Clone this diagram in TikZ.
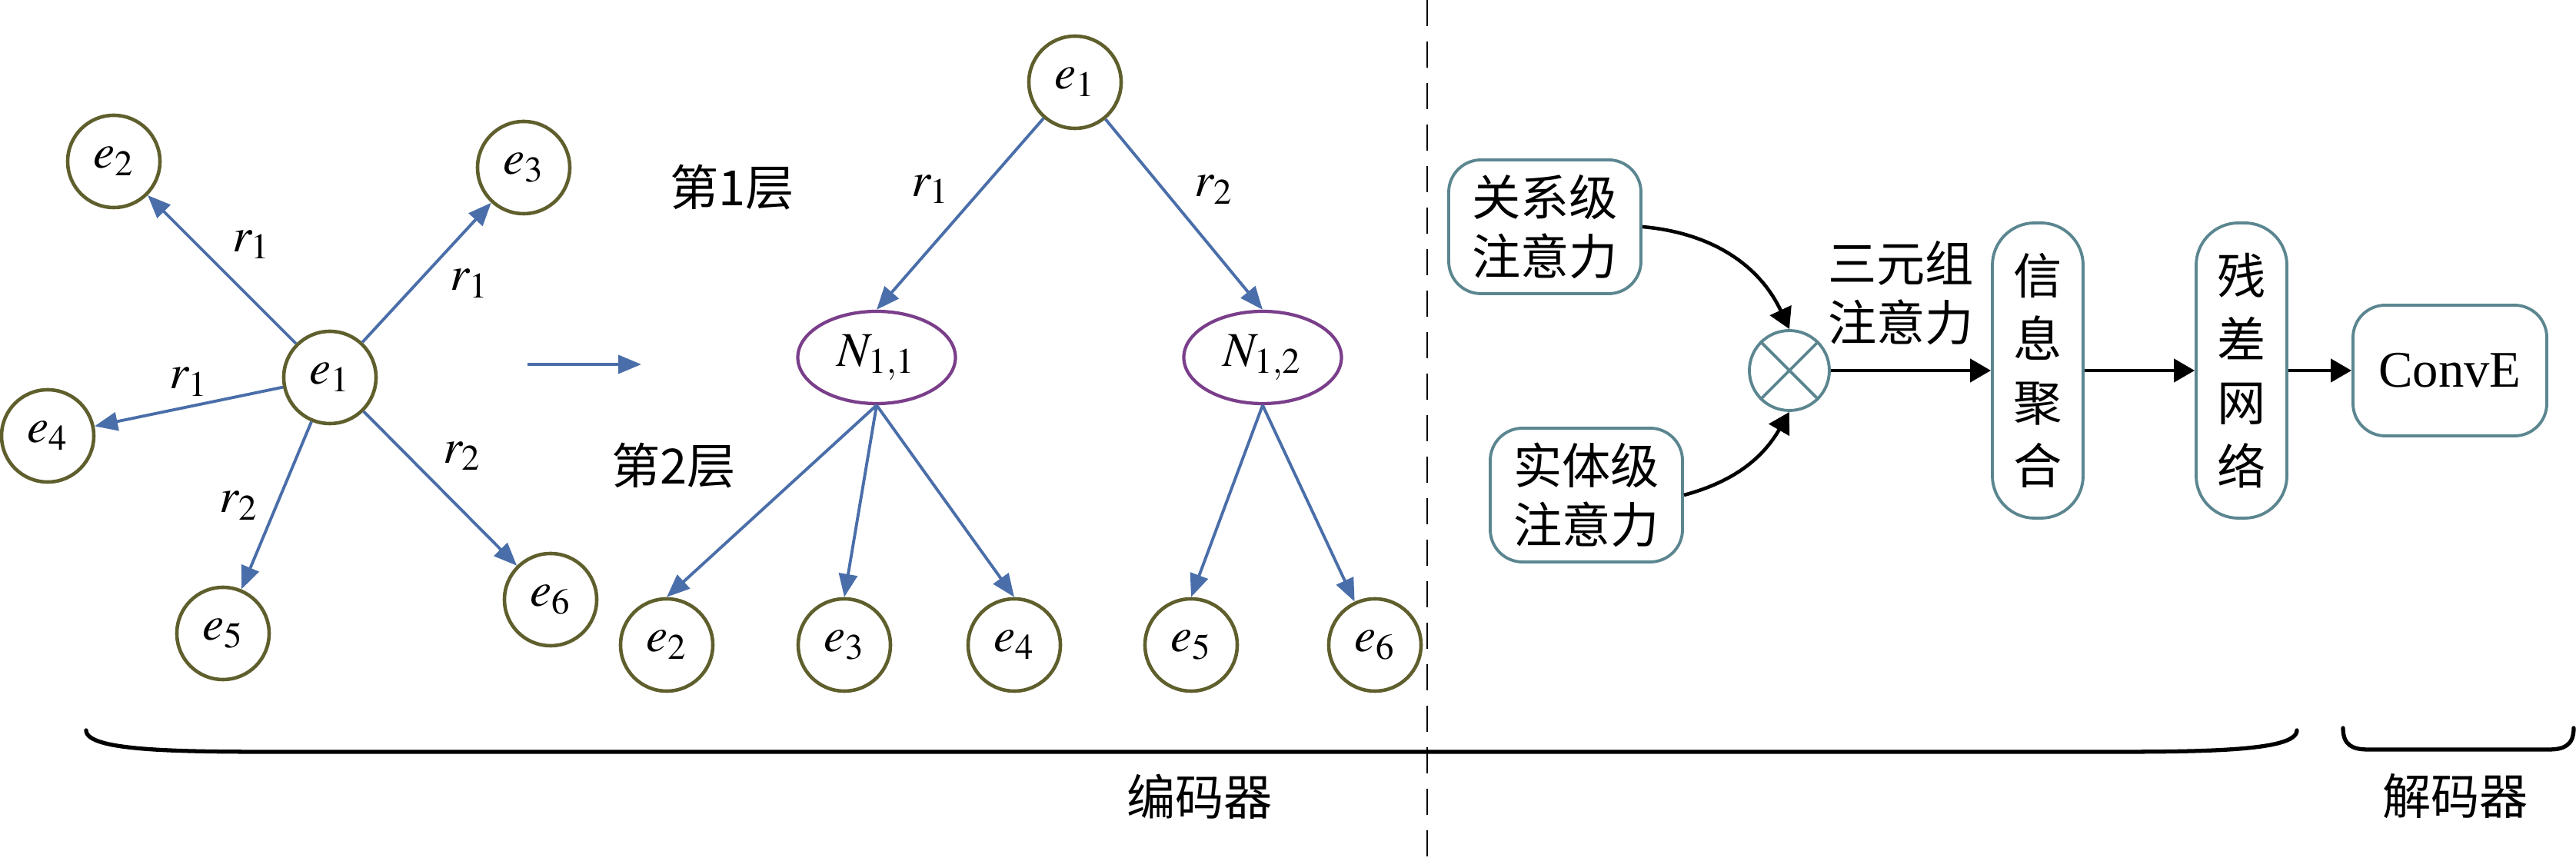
\documentclass[tikz,border=0pt]{standalone}
\usepackage{mathptmx}
\usepackage{fontspec}
\setmainfont{Liberation Serif}
\newfontfamily\cjk{Noto Sans CJK SC}
\usepackage{xcolor}
\usetikzlibrary{arrows.meta}
\usetikzlibrary{shapes.geometric}
\definecolor{entcol}{RGB}{95,95,45}
\definecolor{nbcol}{RGB}{122,62,138}
\definecolor{relcol}{RGB}{74,110,169}
\definecolor{boxcol}{RGB}{91,134,144}

\begin{document}
\begin{tikzpicture}[
		font=\fontsize{18}{22}\selectfont,
		ent/.style={circle, draw=entcol, line width=1.3pt, minimum size=1.2cm, inner sep=0pt},
		nb/.style={ellipse, draw=nbcol, line width=1.2pt, minimum width=2.05cm, minimum height=1.2cm, inner sep=0pt},
		rel/.style={draw=relcol, line width=1.1pt, -{Triangle[length=0.3cm,width=0.24cm]}},
		cn/.style={font=\cjk\fontsize{18}{22}\selectfont, align=center},
		blk/.style={cn, draw=boxcol, line width=1.1pt, rounded corners=0.42cm},
		pill/.style={blk, font=\cjk\fontsize{18}{23.5}\selectfont, minimum width=1.18cm, minimum height=3.84cm, rounded corners=0.55cm},
		flow/.style={line width=1.3pt, -{Triangle[length=0.27cm,width=0.3cm]}},
		brc/.style={line width=1.5pt, line cap=round}
	]
	\useasboundingbox (0,0) rectangle (33.5,11.2);
	
	% Star graph
	\node[ent] (s1) at (4.29,6.29) {$e_1$};
	\foreach \i/\x/\y in {2/1.48/9.10, 3/6.81/9.02, 4/0.62/5.53, 5/2.90/2.96, 6/7.16/3.40} {
		\node[ent] (s\i) at (\x,\y) {$e_{\i}$};
	}
	\draw[rel] (s1) -- node[above right] {$r_1$} (s2);
	\draw[rel] (s1) -- node[pos=0.6, below right] {$r_1$} (s3);
	\draw[rel] (s1) -- node[above] {$r_1$} (s4);
	\draw[rel] (s1) -- node[left=3pt] {$r_2$} (s5);
	\draw[rel] (s1) -- node[pos=0.45, above right] {$r_2$} (s6);
	
	% Arrow to the tree
	\coordinate (a0) at (6.86,6.46);
	\coordinate (a1) at (8.34,6.46);
	\draw[rel] (a0) -- (a1);
	
	% Tree
	\node[ent] (t1) at (13.98,10.13) {$e_1$};
	\node[nb] (n11) at (11.40,6.55) {$N_{1,1}$};
	\node[nb] (n12) at (16.42,6.55) {$N_{1,2}$};
	\foreach \i/\x in {2/8.67, 3/10.98, 4/13.19, 5/15.49, 6/17.88} {
		\node[ent] (b\i) at (\x,2.81) {$e_{\i}$};
	}
	\draw[rel] (t1) -- node[above left] {$r_1$} (n11.north);
	\draw[rel] (t1) -- node[above right] {$r_2$} (n12.north);
	\foreach \i in {2,3,4} {
		\draw[rel] (n11.south) -- (b\i.north);
	}
	\draw[rel] (n12.south) -- (b5.north);
	\draw[rel] (n12.south) -- (b6);
	
	% Layers
	\node[cn] (l1) at (9.52,8.76) {第1层};
	\node[cn] (l2) at (8.76,5.14) {第2层};
	
	% Separator
	\draw[line width=0.7pt, dash pattern=on 0.34cm off 0.2cm] (18.56,11.2) -- (18.56,0);
	
	% Attention and decoder
	\node[blk, minimum width=2.5cm, minimum height=1.74cm] (ra) at (20.09,8.25) {关系级\\注意力};
	\node[blk, minimum width=2.5cm, minimum height=1.74cm] (ea) at (20.63,4.76) {实体级\\注意力};
	\node[circle, draw=boxcol, line width=1.1pt, minimum size=1.04cm, inner sep=0pt] (o) at (23.27,6.38) {};
	\draw[boxcol, line width=1.1pt] (o.north west) -- (o.south east) (o.north east) -- (o.south west);
	\node[cn] (ta) at (24.72,7.39) {三元组\\注意力};
	\node[pill] (agg) at (26.50,6.38) {信\\息\\聚\\合};
	\node[pill] (res) at (29.15,6.38) {残\\差\\网\\络};
	\node[blk, font=\fontsize{19}{22}\selectfont, minimum width=2.52cm, minimum height=1.70cm] (conv) at (31.86,6.38) {ConvE};
	\draw[flow] (ra.east) to[out=-5, in=115] (o.north);
	\draw[flow] (ea.east) to[out=15, in=-120] (o.south);
	\draw[flow] (o.east) -- (agg.west);
	\draw[flow] (agg.east) -- (res.west);
	\draw[flow] (res.east) -- (conv.west);
	
	% Braces
	\draw[brc] (1.12,1.70) .. controls (1.12,1.42) and (2.4,1.42) .. (3.77,1.42) -- (27.22,1.42) .. controls (28.59,1.42) and (29.87,1.42) .. (29.87,1.70);
	\draw[brc] (30.47,1.73) .. controls (30.47,1.50) and (30.60,1.45) .. (30.80,1.45) -- (33.14,1.45) .. controls (33.34,1.45) and (33.47,1.50) .. (33.47,1.73);
	\node[cn] (enc) at (15.60,0.84) {编码器};
	\node[cn] (dec) at (31.93,0.84) {解码器};
\end{tikzpicture}
\end{document}
